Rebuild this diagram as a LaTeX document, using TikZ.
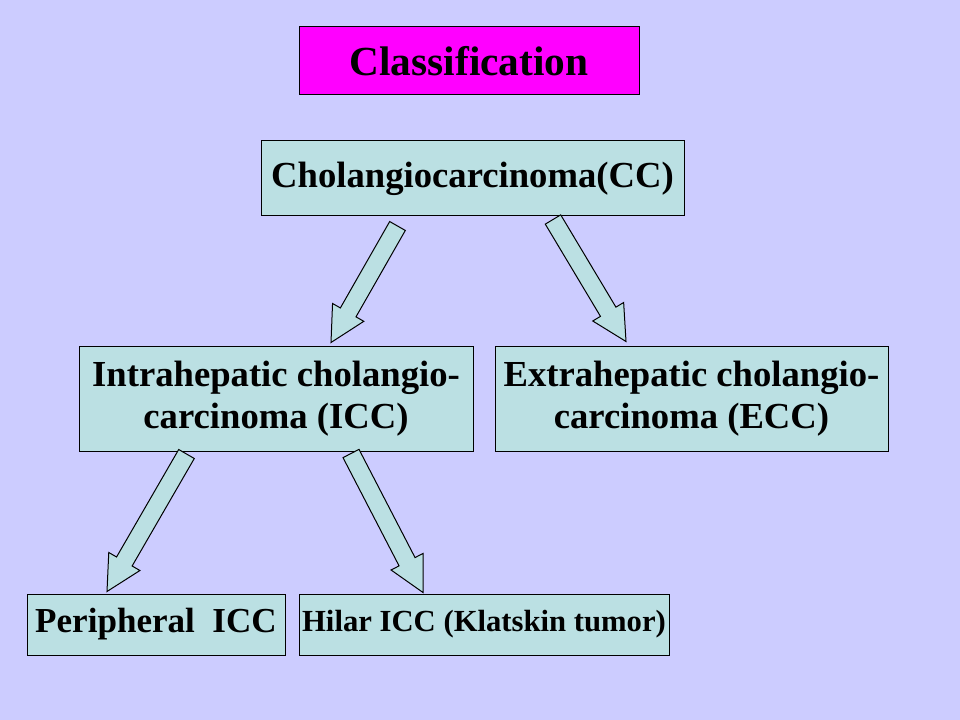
\documentclass[tikz,border=0pt]{standalone}
\usepackage{fontspec}
\setmainfont{Liberation Serif}
\usetikzlibrary{calc}
\definecolor{slidebg}{HTML}{CCCCFF}
\definecolor{boxfill}{HTML}{BBE0E3}
\definecolor{titlefill}{HTML}{FF00FF}

\begin{document}
\begin{tikzpicture}[x=0.75pt,y=-0.75pt,
    box/.style={draw=black,line width=0.75pt,fill=boxfill,inner sep=0pt,align=center,
      font=\bfseries\fontsize{27.5}{31.5}\selectfont},
    blockarrow/.style={draw=black,line width=0.75pt,fill=boxfill,line join=miter,
      to path={($(\tikztostart)!6.75pt!90:(\tikztotarget)$)
        -- ($(\tikztotarget)!26pt!(\tikztostart)!6.75pt!-90:(\tikztostart)$)
        -- ($(\tikztotarget)!26pt!(\tikztostart)!13.5pt!-90:(\tikztostart)$)
        -- (\tikztotarget)
        -- ($(\tikztotarget)!26pt!(\tikztostart)!13.5pt!90:(\tikztostart)$)
        -- ($(\tikztotarget)!26pt!(\tikztostart)!6.75pt!90:(\tikztostart)$)
        -- ($(\tikztostart)!6.75pt!-90:(\tikztotarget)$) -- cycle}}]
      \fill[slidebg] (0,0) rectangle (960,720);
      \node[box,fill=titlefill,minimum width=255pt,minimum height=51pt,
        font=\bfseries\fontsize{31}{36}\selectfont] (title) at (469,61) {Classification};
      \node[box,minimum width=317.25pt,minimum height=56.25pt] (cc) at (472.5,178.5) {Cholangiocarcinoma(CC)};
      \node[box,minimum width=295.5pt,minimum height=78.75pt] (icc) at (276,398.5) {Intrahepatic cholangio-\\carcinoma (ICC)};
      \node[box,minimum width=294.75pt,minimum height=78.75pt] (ecc) at (691.5,398.5) {Extrahepatic cholangio-\\carcinoma (ECC)};
      \node[box,minimum width=193.5pt,minimum height=45.75pt,
        font=\bfseries\fontsize{26.3}{30}\selectfont] (peri) at (156,624.5) {Peripheral\ \ ICC};
      \node[box,minimum width=277.5pt,minimum height=45.75pt,
        font=\bfseries\fontsize{23}{27}\selectfont] (hilar) at (484,624.5) {Hilar ICC (Klatskin tumor)};
      \coordinate (a1s) at ($(cc.south)+(-75,9.5)$);
      \coordinate (a1t) at ($(icc.north)+(55,-3)$);
      \coordinate (a2s) at ($(cc.south)+(80.5,3)$);
      \coordinate (a2t) at ($(ecc.north)+(-65.5,-4)$);
      \coordinate (a3s) at ($(icc.south)+(-89.5,2.5)$);
      \coordinate (a3t) at ($(peri.north)+(-49,-2)$);
      \coordinate (a4s) at ($(icc.south)+(75,2)$);
      \coordinate (a4t) at ($(hilar.north)+(-61,-1)$);
      \draw[blockarrow] (a1s) to (a1t);
      \draw[blockarrow] (a2s) to (a2t);
      \draw[blockarrow] (a3s) to (a3t);
      \draw[blockarrow] (a4s) to (a4t);
\end{tikzpicture}
\end{document}
